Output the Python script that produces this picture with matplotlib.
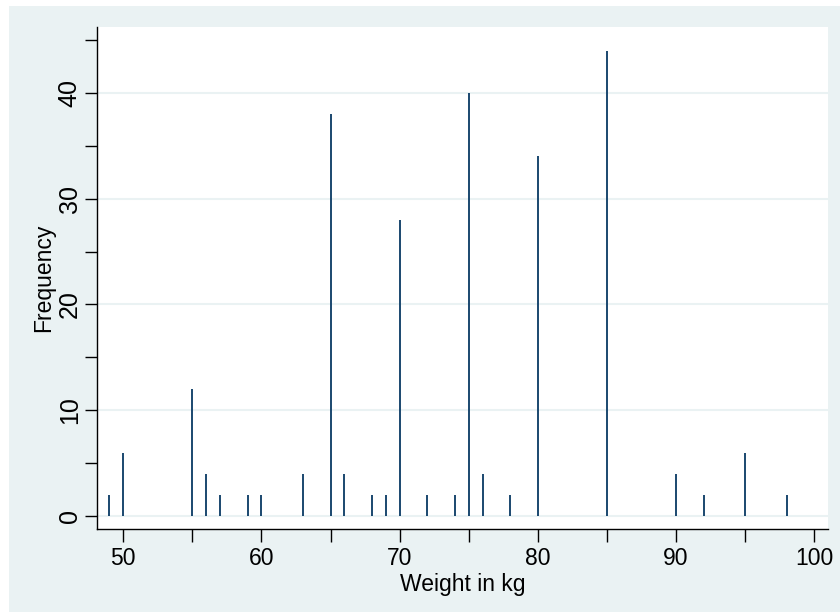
import numpy as np
import matplotlib
matplotlib.use("Agg")
from matplotlib import pyplot as plt
from matplotlib.patches import Rectangle

# weight values (kg) and how often each occurs
weights = [49, 50, 55, 56, 57, 59, 60, 63, 65, 66, 68, 69, 70, 72, 74, 75, 76, 78, 80, 85, 90, 92, 95, 98]
counts = [2, 6, 12, 4, 2, 2, 2, 4, 38, 4, 2, 2, 28, 2, 2, 40, 4, 2, 34, 44, 4, 2, 6, 2]

x_major = [50, 60, 70, 80, 90, 100]
y_major = [0, 10, 20, 30, 40]

plt.rcParams['font.family'] = ['Liberation Sans', 'DejaVu Sans']

bg = '#eaf2f3'
navy = '#1a476f'

fig = plt.figure(figsize=(8.4, 6.12), dpi=100, facecolor='white')
# stata-ish outer region, with a thin white strip at top and left
fig.add_artist(Rectangle((9 / 840, 0), 1 - 9 / 840, 1 - 6 / 612,
                         transform=fig.transFigure, facecolor=bg,
                         edgecolor='none', zorder=-10))

ax = fig.add_axes([97 / 840, 1 - 529 / 612, (828 - 97) / 840, (529 - 27) / 612])
ax.set_zorder(1)
ax.set_facecolor('white')

ax.vlines(weights, 0, counts, colors=navy, linewidth=1.4, zorder=3)

ax.set_xlim(48.1, 101.0)
ax.set_ylim(-1.23, 46.24)

ax.set_xticks(x_major)
ax.set_xticks(np.arange(55, 100, 10), minor=True)
ax.set_yticks(y_major)
ax.set_yticks(np.arange(5, 50, 10), minor=True)

ax.tick_params(axis='both', which='both', length=9, width=1, color='black')
ax.tick_params(axis='x', which='major', pad=4, labelsize=16.5)
ax.tick_params(axis='y', which='major', pad=2, labelsize=18)
for lab in ax.get_yticklabels():
    lab.set_rotation(90)
    lab.set_va('center')

ax.yaxis.grid(True, which='major', color=bg, linewidth=1.5, zorder=1)
ax.set_axisbelow(True)

for s in ['top', 'right']:
    ax.spines[s].set_visible(False)
for s in ['left', 'bottom']:
    ax.spines[s].set_linewidth(1)
    ax.spines[s].set_color('black')

ax.set_xlabel('Weight in kg', fontsize=16.5, labelpad=2)
ax.set_ylabel('Frequency', fontsize=16.5, labelpad=2)

fig.savefig('out.png', dpi=100, facecolor=fig.get_facecolor())
